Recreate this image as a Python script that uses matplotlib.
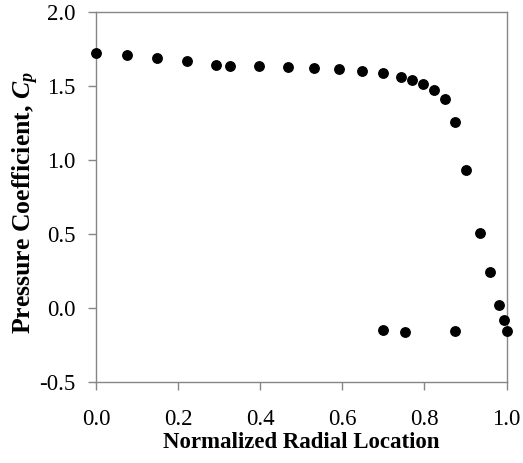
import matplotlib.pyplot as plt

plt.rcParams['font.family'] = ['Liberation Serif', 'DejaVu Serif']
plt.rcParams['mathtext.fontset'] = 'custom'
plt.rcParams['mathtext.it'] = 'Liberation Serif:italic:bold'
plt.rcParams['mathtext.rm'] = 'Liberation Serif:bold'

# normalized radial location and pressure coefficient
radial = [0.0, 0.075, 0.149, 0.222, 0.293, 0.326, 0.398, 0.467, 0.532, 0.593,
          0.649, 0.699, 0.744, 0.770, 0.797, 0.823, 0.849, 0.875, 0.901,
          0.935, 0.960, 0.981, 0.994, 1.0, 0.700, 0.752, 0.875]
cp = [1.725, 1.709, 1.691, 1.671, 1.646, 1.633, 1.637, 1.630, 1.623, 1.615,
      1.601, 1.588, 1.563, 1.540, 1.513, 1.475, 1.410, 1.258, 0.930,
      0.508, 0.242, 0.021, -0.080, -0.157, -0.150, -0.161, -0.157]

xticks = [0.0, 0.2, 0.4, 0.6, 0.8, 1.0]
yticks = [-0.5, 0.0, 0.5, 1.0, 1.5, 2.0]

fig = plt.figure(figsize=(5.23, 4.63), dpi=100)
ax = fig.add_axes([0.1836, 0.1756, 0.785, 0.798])

ax.plot(radial, cp, 'o', color='black', markersize=6.8, clip_on=False, zorder=3)

ax.set_xlim(0, 1)
ax.set_ylim(-0.5, 2.0)
ax.set_xticks(xticks)
ax.set_yticks(yticks)
ax.set_xticklabels(['%.1f' % t for t in xticks])
ax.set_yticklabels(['%.1f' % t for t in yticks])

for s in ax.spines.values():
    s.set_color('#868686')
    s.set_linewidth(1.0)
ax.tick_params(direction='out', length=6, width=1.0, color='#868686',
               labelsize=16.5)
ax.tick_params(axis='x', pad=14)
ax.tick_params(axis='y', pad=9)

ax.set_xlabel('Normalized Radial Location', fontsize=16.5, fontweight='bold', labelpad=1)
ax.set_ylabel('Pressure Coefficient, $C_p$', fontsize=18.5, fontweight='bold')
ax.yaxis.set_label_coords(-0.135, 0.485)

fig.savefig('out.png', dpi=100)
